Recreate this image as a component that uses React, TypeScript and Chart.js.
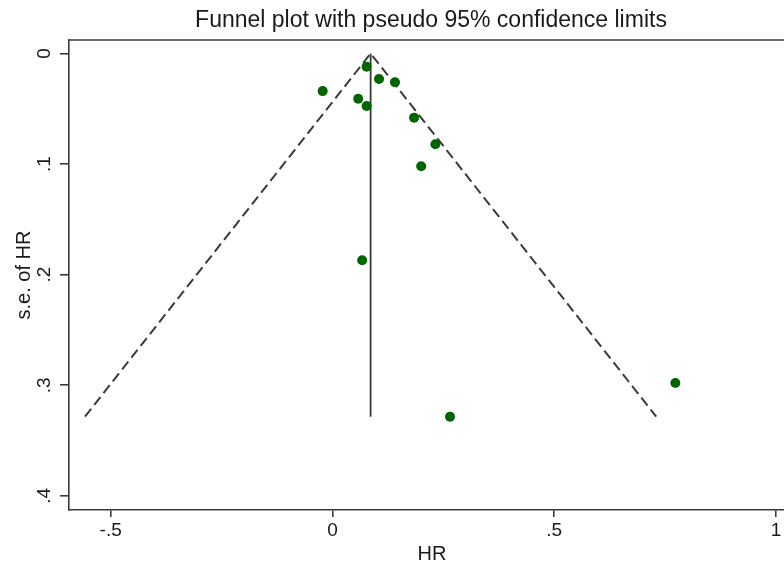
import React, { useEffect, useRef } from "react";
import { Chart, registerables } from "chart.js";

Chart.register(...registerables);

// Study estimates (HR) and their standard errors
const hrValues = [0.077, 0.105, 0.141, -0.022, 0.058, 0.077, 0.184, 0.232, 0.2, 0.067, 0.773, 0.265];
const seValues = [0.012, 0.023, 0.026, 0.034, 0.041, 0.0475, 0.058, 0.082, 0.102, 0.187, 0.298, 0.3284];

// Pooled estimate line and pseudo 95% confidence limits
const pooledHR = [0.086, 0.086];
const pooledSE = [0, 0.3284];
const funnelHR = [-0.558, 0.086, 0.73];
const funnelSE = [0.3284, 0, 0.3284];

const xTicks = [-0.5, 0, 0.5, 1];
const xTickLabels = ["-.5", "0", ".5", "1"];
const yTicks = [0, 0.1, 0.2, 0.3, 0.4];
const yTickLabels = ["0", ".1", ".2", ".3", ".4"];

const titleText = "Funnel plot with pseudo 95% confidence limits";
const xTitle = "HR";
const yTitle = "s.e. of HR";

const FONT = "'Liberation Sans', Arial, sans-serif";
const TEXT = "#1a1a1a";
const LINE = "#3a3a3a";

export default function App() {
  const ref = useRef<HTMLCanvasElement | null>(null);

  useEffect(() => {
    if (!ref.current) return;
    const textPlugin = {
      id: "stataText",
      afterDraw(chart: any) {
        const ctx = chart.ctx;
        const area = chart.chartArea;
        const yScale = chart.scales.y;
        ctx.save();
        // top border
        ctx.strokeStyle = LINE;
        ctx.lineWidth = 1.6;
        ctx.beginPath();
        ctx.moveTo(area.left, area.top);
        ctx.lineTo(chart.width, area.top);
        ctx.stroke();

        ctx.fillStyle = TEXT;
        // title
        ctx.font = `23px ${FONT}`;
        ctx.textAlign = "center";
        ctx.textBaseline = "alphabetic";
        ctx.fillText(titleText, 431, 27);
        // x title
        ctx.font = `20px ${FONT}`;
        ctx.fillText(xTitle, 432, 560);
        // y title
        ctx.save();
        ctx.translate(30, (area.top + area.bottom) / 2);
        ctx.rotate(-Math.PI / 2);
        ctx.fillText(yTitle, 0, 0);
        ctx.restore();
        // y tick labels (rotated)
        ctx.font = `19px ${FONT}`;
        yTicks.forEach((v, i) => {
          const py = yScale.getPixelForValue(v);
          ctx.save();
          ctx.translate(49.5, py);
          ctx.rotate(-Math.PI / 2);
          ctx.fillText(yTickLabels[i], 0, 0);
          ctx.restore();
        });
        ctx.restore();
      },
    };

    const chart = new Chart(ref.current, {
      type: "scatter",
      data: {
        datasets: [
          {
            label: "studies",
            data: hrValues.map((x, i) => ({ x, y: seValues[i] })),
            backgroundColor: "#006400",
            borderWidth: 0,
            pointRadius: 5,
            order: 0,
          },
          {
            label: "pooled",
            data: pooledHR.map((x, i) => ({ x, y: pooledSE[i] })),
            showLine: true,
            borderColor: LINE,
            borderWidth: 1.8,
            pointRadius: 0,
            order: 1,
          },
          {
            label: "limits",
            data: funnelHR.map((x, i) => ({ x, y: funnelSE[i] })),
            showLine: true,
            borderColor: LINE,
            borderWidth: 2,
            borderDash: [10, 5],
            pointRadius: 0,
            order: 2,
          },
        ],
      },
      options: {
        responsive: false,
        animation: false,
        layout: { autoPadding: false, padding: { top: 40, left: 0, right: 0, bottom: 0 } },
        plugins: {
          legend: { display: false },
          tooltip: { enabled: false },
          title: { display: false },
        },
        scales: {
          x: {
            type: "linear",
            min: -0.594,
            max: 1.018,
            afterBuildTicks: (scale: any) => {
              scale.ticks = xTicks.map((v) => ({ value: v }));
            },
            afterFit: (scale: any) => {
              scale.height = 53;
              scale.paddingLeft = 0;
              scale.paddingRight = 0;
            },
            grid: {
              drawOnChartArea: false,
              drawTicks: true,
              tickLength: 7,
              color: LINE,
              lineWidth: 1.6,
            },
            border: { display: true, color: LINE, width: 1.6 },
            ticks: {
              padding: 2,
              color: TEXT,
              font: { family: FONT, size: 19 },
              maxRotation: 0,
              autoSkip: false,
              callback: (v: any) => {
                const idx = xTicks.indexOf(Number(v));
                return idx >= 0 ? xTickLabels[idx] : "";
              },
            },
          },
          y: {
            type: "linear",
            reverse: true,
            min: -0.0122,
            max: 0.4128,
            afterBuildTicks: (scale: any) => {
              scale.ticks = yTicks.map((v) => ({ value: v }));
            },
            afterFit: (scale: any) => {
              scale.width = 69;
              scale.paddingTop = 0;
              scale.paddingBottom = 0;
            },
            grid: {
              drawOnChartArea: false,
              drawTicks: true,
              tickLength: 9,
              color: LINE,
              lineWidth: 1.6,
            },
            border: { display: true, color: LINE, width: 1.6 },
            ticks: { display: false },
          },
        },
      },
      plugins: [textPlugin],
    } as any);
    return () => chart.destroy();
  }, []);

  return (
    <div style={{ position: "fixed", left: 0, top: 0, width: 784, height: 563, background: "#fff" }}>
      <canvas ref={ref} width={784} height={563} style={{ width: 784, height: 563, display: "block" }} />
    </div>
  );
}
